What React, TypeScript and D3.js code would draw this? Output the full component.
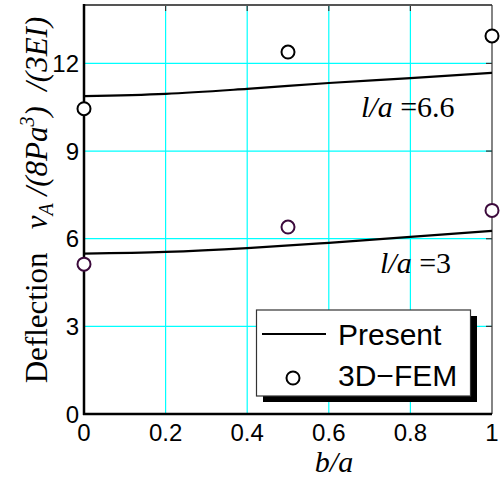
import * as d3 from 'd3'

const xTicks = [0, 0.2, 0.4, 0.6, 0.8, 1]
const xTickLabels = ['0', '0.2', '0.4', '0.6', '0.8', '1']
const yTicks = [0, 3, 6, 9, 12]
const yTickLabels = ['0', '3', '6', '9', '12']

// "Present" curves, sampled at b/a
const curveX = [0, 0.2, 0.4, 0.6, 0.8, 1]
const present66 = [10.88, 10.96, 11.13, 11.33, 11.5, 11.68]
const present3 = [5.49, 5.55, 5.68, 5.86, 6.06, 6.27]

// 3D-FEM points
const femX = [0, 0.5, 1]
const fem66 = [10.45, 12.39, 12.94]
const fem3 = [5.13, 6.4, 6.97]

const W = 500
const H = 479
const left = 84
const right = 492
const top = 5
const bottom = 414

export default function App() {
  const x = d3.scaleLinear().domain([0, 1]).range([left, right])
  const y = d3.scaleLinear().domain([0, 14]).range([bottom, top])

  const line = d3.line<number>()
    .x((_, i) => x(curveX[i]))
    .y(d => y(d))
    .curve(d3.curveMonotoneX)

  const serif = "'Liberation Serif', 'Times New Roman', serif"
  const sans = "'Liberation Sans', Arial, sans-serif"
  const sp = '\u00a0'

  return (
    <svg width={W} height={H} style={{ position: 'absolute', left: 0, top: 0, background: '#fff' }}>
      {/* grid */}
      {xTicks.slice(1, -1).map(t => (
        <line key={'gx' + t} x1={x(t)} x2={x(t)} y1={top} y2={bottom} stroke="#00ffff" strokeWidth={1.2} />
      ))}
      {yTicks.slice(1).map(t => (
        <line key={'gy' + t} x1={left} x2={right} y1={y(t)} y2={y(t)} stroke="#00ffff" strokeWidth={1.2} />
      ))}

      {/* inner ticks on top and right */}
      {xTicks.slice(1, -1).map(t => (
        <line key={'tt' + t} x1={x(t)} x2={x(t)} y1={top} y2={top + 6} stroke="#333" strokeWidth={1.2} />
      ))}
      {yTicks.slice(1).map(t => (
        <line key={'tr' + t} x1={right - 6} x2={right} y1={y(t)} y2={y(t)} stroke="#333" strokeWidth={1.2} />
      ))}

      {/* frame */}
      <line x1={left} x2={right} y1={top} y2={top} stroke="#555" strokeWidth={2} />
      <line x1={right} x2={right} y1={top} y2={bottom} stroke="#333" strokeWidth={1.2} />
      <line x1={left} x2={left} y1={top - 1} y2={bottom + 1} stroke="#000" strokeWidth={2.5} />
      <line x1={left - 1} x2={right} y1={bottom} y2={bottom} stroke="#000" strokeWidth={2.5} />

      {/* curves */}
      <path d={line(present66) || ''} fill="none" stroke="#000" strokeWidth={2.2} />
      <path d={line(present3) || ''} fill="none" stroke="#000" strokeWidth={2.2} />

      {/* FEM points */}
      {fem66.map((v, i) => (
        <circle key={'a' + i} cx={x(femX[i])} cy={y(v)} r={6.5} fill="#fff" stroke="#000" strokeWidth={2} />
      ))}
      {fem3.map((v, i) => (
        <circle key={'b' + i} cx={x(femX[i])} cy={y(v)} r={6.5} fill="#fff" stroke="#3c0a3c" strokeWidth={2} />
      ))}

      {/* tick labels */}
      {xTicks.map((t, i) => (
        <text key={'xl' + t} x={x(t)} y={441} textAnchor="middle" fontFamily={sans} fontSize={24} fill="#000">
          {xTickLabels[i]}
        </text>
      ))}
      {yTicks.map((t, i) => (
        <text key={'yl' + t} x={79} y={y(t) + 8.5} textAnchor="end" fontFamily={sans} fontSize={24} fill="#000">
          {yTickLabels[i]}
        </text>
      ))}

      {/* annotations */}
      <text x={361} y={117} fontFamily={serif} fontSize={30} fill="#000">
        <tspan fontStyle="italic">l/a</tspan>{sp}=6.6
      </text>
      <text x={380} y={273} fontFamily={serif} fontSize={30} fill="#000">
        <tspan fontStyle="italic">l/a</tspan>{sp}=3
      </text>

      {/* axis labels */}
      <text x={334} y={472} textAnchor="middle" fontFamily={serif} fontSize={30} fontStyle="italic" fill="#000">b/a</text>
      <text transform="translate(47,200) rotate(-90)" textAnchor="middle" fontFamily={serif} fontSize={31} fill="#000">
        {'Deflection' + sp + sp + sp}<tspan fontStyle="italic">v</tspan>
        <tspan fontStyle="italic" fontSize={20} dy={6}>A</tspan>
        <tspan fontStyle="italic" dy={-6}>{sp + '/(8Pa'}</tspan>
        <tspan fontStyle="italic" fontSize={20} dy={-13}>3</tspan>
        <tspan fontStyle="italic" dy={13}>{')' + sp + sp + '/(3EI)'}</tspan>
      </text>

      {/* legend */}
      <rect x={263} y={316} width={214} height={86} fill="#000" />
      <rect x={256.5} y={310} width={214} height={86} fill="#fff" stroke="#333" strokeWidth={1.2} />
      <line x1={262} x2={326} y1={334} y2={334} stroke="#000" strokeWidth={2.2} />
      <text x={338} y={345} fontFamily={sans} fontSize={30} fill="#000">Present</text>
      <circle cx={293} cy={378} r={6.5} fill="#fff" stroke="#000" strokeWidth={2} />
      <text x={338} y={386} fontFamily={sans} fontSize={30} fill="#000">3D{'\u2212'}FEM</text>
    </svg>
  )
}
